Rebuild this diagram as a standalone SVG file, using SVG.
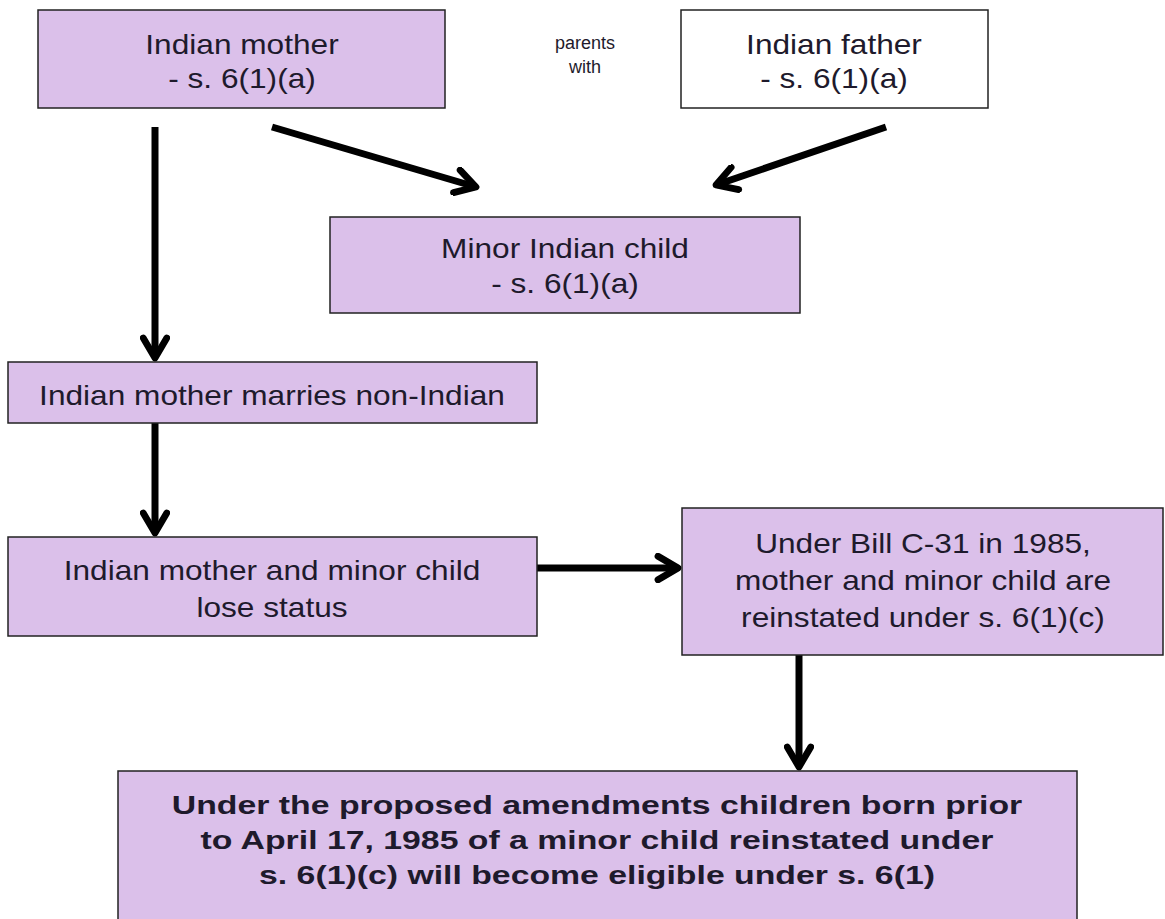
<svg xmlns="http://www.w3.org/2000/svg" width="1165" height="919" viewBox="0 0 1165 919">
<defs>
<style>
.box{fill:#dbc0ea;stroke:#222;stroke-width:1.5}
.wbox{fill:#fff;stroke:#222;stroke-width:1.5}
.t{font-family:"Liberation Sans",Arial,sans-serif;font-size:28.5px;fill:#1e1a2c;text-anchor:middle}
.b{font-family:"Liberation Sans",Arial,sans-serif;font-size:26px;font-weight:bold;fill:#1e1a2c;text-anchor:middle}
.s{font-family:"Liberation Sans",Arial,sans-serif;font-size:18px;fill:#1e1a2c;text-anchor:middle}
.c{stroke:#000;stroke-width:7;fill:none;marker-end:url(#ah)}
</style>
<marker id="ah" viewBox="0 0 10 10" refX="8.3" refY="5" markerWidth="4.2" markerHeight="4.2" orient="auto" markerUnits="strokeWidth">
<path d="M1.5,1 L8.3,5 L1.5,9" fill="none" stroke="#000" stroke-width="2.3" stroke-linecap="round" stroke-linejoin="round"/>
</marker>
</defs>
<g id="connectors">
<line class="c" x1="155" y1="127" x2="155" y2="358"/>
<line class="c" x1="272" y1="127" x2="476" y2="187"/>
<line class="c" x1="886" y1="127" x2="716" y2="185"/>
<line class="c" x1="155" y1="423" x2="155" y2="533"/>
<line class="c" x1="537" y1="568" x2="678" y2="568"/>
<line class="c" x1="799" y1="655" x2="799" y2="767"/>
</g>
<g id="mother">
<rect class="box" x="38" y="10" width="407" height="98"/>
<text class="t" transform="translate(242 54) scale(1.11 1)">Indian mother</text>
<text class="t" transform="translate(242 88) scale(1.11 1)">- s. 6(1)(a)</text>
</g>
<g id="parents-with">
<text class="s" x="585" y="49">parents</text>
<text class="s" x="585" y="73">with</text>
</g>
<g id="father">
<rect class="wbox" x="681" y="10" width="307" height="98"/>
<text class="t" transform="translate(834 54) scale(1.11 1)">Indian father</text>
<text class="t" transform="translate(834 88) scale(1.11 1)">- s. 6(1)(a)</text>
</g>
<g id="child">
<rect class="box" x="330" y="217" width="470" height="96"/>
<text class="t" transform="translate(565 258) scale(1.11 1)">Minor Indian child</text>
<text class="t" transform="translate(565 293) scale(1.11 1)">- s. 6(1)(a)</text>
</g>
<g id="marries">
<rect class="box" x="8" y="362" width="529" height="61"/>
<text class="t" transform="translate(272 405) scale(1.11 1)">Indian mother marries non-Indian</text>
</g>
<g id="lose">
<rect class="box" x="8" y="537" width="529" height="99"/>
<text class="t" transform="translate(272 580) scale(1.11 1)">Indian mother and minor child</text>
<text class="t" transform="translate(272 617) scale(1.11 1)">lose status</text>
</g>
<g id="billc31">
<rect class="box" x="682" y="508" width="481" height="147"/>
<text class="t" transform="translate(923 553) scale(1.11 1)">Under Bill C-31 in 1985,</text>
<text class="t" transform="translate(923 590) scale(1.11 1)">mother and minor child are</text>
<text class="t" transform="translate(923 627) scale(1.11 1)">reinstated under s. 6(1)(c)</text>
</g>
<g id="amendments">
<rect class="box" x="118" y="771" width="959" height="160"/>
<text class="b" transform="translate(597 814) scale(1.3 1)">Under the proposed amendments children born prior</text>
<text class="b" transform="translate(597 849) scale(1.3 1)">to April 17, 1985 of a minor child reinstated under</text>
<text class="b" transform="translate(597 884) scale(1.3 1)">s. 6(1)(c) will become eligible under s. 6(1)</text>
</g>
</svg>
